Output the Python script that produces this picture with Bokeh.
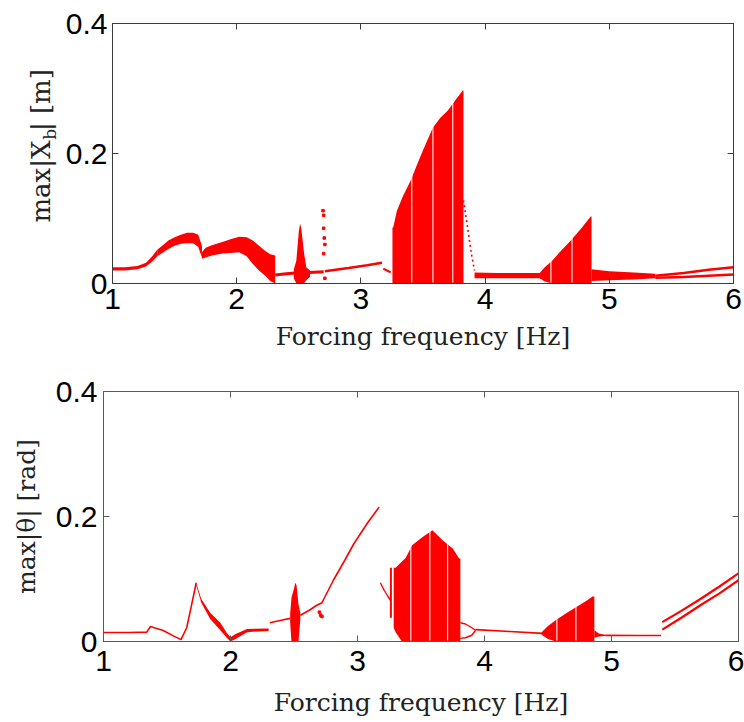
import math
from bokeh.plotting import figure
from bokeh.layouts import column, row
from bokeh.models import FixedTicker, LinearAxis, CustomJSTickFormatter, Range1d
from bokeh.core.properties import value
from bokeh.embed import file_html
from bokeh.resources import INLINE

RED = "#ff0000"

# ---------------- axes / labels ----------------
x_ticks = [1, 2, 3, 4, 5, 6]
y_ticks = [0, 0.2, 0.4]
y_tick_labels = {0: "0", 0.2: "0.2", 0.4: "0.4"}
x_label = "Forcing frequency [Hz]"
top_ylabel_parts = ["max|X", "b", "| [m]"]
bottom_ylabel = "max|\u03b8| [rad]"

# ---------------- top panel: max|Xb| ----------------
xb_start_x = [1.0, 1.1, 1.2, 1.27, 1.32, 1.36]
xb_start_lo = [0.020, 0.020, 0.022, 0.026, 0.034, 0.042]
xb_start_hi = [0.025, 0.025, 0.027, 0.032, 0.042, 0.052]

xb_hump1_x = [1.36, 1.40, 1.45, 1.50, 1.55, 1.60, 1.65, 1.69, 1.72]
xb_hump1_lo = [0.042, 0.047, 0.053, 0.058, 0.061, 0.062, 0.062, 0.056, 0.040]
xb_hump1_hi = [0.052, 0.058, 0.066, 0.071, 0.075, 0.078, 0.078, 0.075, 0.058]

xb_hump2_x = [1.72, 1.75, 1.80, 1.885, 1.95, 2.02, 2.08, 2.13, 2.18, 2.23, 2.27, 2.31]
xb_hump2_lo = [0.038, 0.040, 0.043, 0.046, 0.047, 0.048, 0.042, 0.030, 0.020, 0.012, 0.004, 0.0]
xb_hump2_hi = [0.048, 0.055, 0.059, 0.064, 0.068, 0.072, 0.071, 0.066, 0.058, 0.050, 0.045, 0.043]

xb_low1_x = [2.31, 2.40, 2.47]
xb_low1_y = [0.013, 0.015, 0.016]

xb_spike_x = [2.46, 2.48, 2.50, 2.51, 2.52, 2.54, 2.56, 2.59]
xb_spike_lo = [0.008, 0.0, 0.0, 0.0, 0.0, 0.0, 0.005, 0.010]
xb_spike_hi = [0.022, 0.035, 0.080, 0.092, 0.085, 0.050, 0.025, 0.020]

xb_low2_x = [2.58, 2.70]
xb_low2_y = [0.017, 0.018]

xb_dots_x = [2.695, 2.700, 2.700, 2.705, 2.710, 2.700, 2.710]
xb_dots_y = [0.112, 0.105, 0.085, 0.070, 0.060, 0.046, 0.008]

xb_low3_x = [2.71, 2.90, 3.05, 3.17]
xb_low3_y = [0.019, 0.024, 0.028, 0.032]

xb_drop_x = [3.18, 3.21, 3.24]
xb_drop_y = [0.023, 0.020, 0.017]

xb_chaos1_x = [3.254, 3.26, 3.29, 3.34, 3.40, 3.45, 3.50, 3.58, 3.64, 3.70, 3.76, 3.82, 3.826]
xb_chaos1_hi = [0.086, 0.086, 0.112, 0.135, 0.158, 0.182, 0.205, 0.240, 0.255, 0.266, 0.282, 0.297, 0.297]
xb_chaos1_gaps = [3.41, 3.58, 3.74]

xb_tail_x = [3.826, 3.86, 3.89, 3.915]
xb_tail_y = [0.128, 0.085, 0.045, 0.020]

xb_flat_x = [3.915, 4.10, 4.30, 4.45]
xb_flat_lo = [0.008, 0.008, 0.008, 0.008]
xb_flat_hi = [0.017, 0.016, 0.016, 0.016]

xb_chaos2_x = [4.44, 4.48, 4.54, 4.60, 4.69, 4.77, 4.85, 4.857]
xb_chaos2_lo = [0.008, 0.003, 0.0, 0.0, 0.0, 0.0, 0.0, 0.0]
xb_chaos2_hi = [0.016, 0.025, 0.035, 0.048, 0.066, 0.084, 0.103, 0.103]
xb_chaos2_gaps = [4.53, 4.70]

xb_after_x = [4.857, 5.0, 5.2, 5.37]
xb_after_lo = [0.004, 0.005, 0.006, 0.008]
xb_after_hi = [0.022, 0.019, 0.017, 0.015]

xb_end_x = [5.37, 5.6, 5.8, 6.0]
xb_end_upper = [0.012, 0.016, 0.021, 0.025]
xb_end_lower = [0.009, 0.010, 0.012, 0.014]

# ---------------- bottom panel: max|theta| ----------------
th_start_x = [1.0, 1.2, 1.34, 1.37, 1.40, 1.47, 1.55, 1.61, 1.655, 1.69, 1.73]
th_start_y = [0.0144, 0.0144, 0.015, 0.024, 0.022, 0.0176, 0.009, 0.003, 0.022, 0.055, 0.094]

th_desc_x = [1.73, 1.77, 1.84, 1.92, 1.97, 2.0]
th_desc_lo = [0.090, 0.062, 0.036, 0.018, 0.006, 0.0]
th_desc_hi = [0.094, 0.068, 0.046, 0.030, 0.014, 0.007]

th_rise_x = [2.0, 2.04, 2.13, 2.30]
th_rise_lo = [0.0, 0.004, 0.015, 0.017]
th_rise_hi = [0.007, 0.012, 0.020, 0.021]

th_mid_x = [2.31, 2.40, 2.47]
th_mid_y = [0.030, 0.034, 0.037]

th_spike_x = [2.47, 2.48, 2.50, 2.51, 2.52, 2.535, 2.55]
th_spike_lo = [0.030, 0.0, 0.0, 0.0, 0.0, 0.0, 0.035]
th_spike_hi = [0.045, 0.070, 0.085, 0.094, 0.090, 0.060, 0.045]

th_climb_x = [2.55, 2.62, 2.68, 2.72, 2.81, 2.90, 2.97, 3.08, 3.17]
th_climb_y = [0.042, 0.050, 0.058, 0.062, 0.098, 0.130, 0.156, 0.190, 0.215]

th_dots_x = [2.70, 2.71, 2.72]
th_dots_y = [0.047, 0.042, 0.040]

th_fall_x = [3.18, 3.21, 3.24, 3.26]
th_fall_y = [0.094, 0.082, 0.072, 0.066]

th_bar_x = [3.263]
th_bar_lo = [0.038]
th_bar_hi = [0.118]

th_chaos1_x = [3.285, 3.30, 3.35, 3.38, 3.43, 3.51, 3.59, 3.67, 3.75, 3.80, 3.81]
th_chaos1_lo = [0.022, 0.015, 0.0, 0.0, 0.0, 0.0, 0.0, 0.0, 0.0, 0.0, 0.0]
th_chaos1_hi = [0.118, 0.118, 0.128, 0.134, 0.154, 0.167, 0.178, 0.162, 0.149, 0.133, 0.133]
th_chaos1_gaps = [3.42, 3.57, 3.71]

th_loop_x = [3.81, 3.85, 3.90, 3.93]
th_loop_upper = [0.030, 0.028, 0.022, 0.018]
th_loop_lower = [0.005, 0.006, 0.010, 0.018]

th_flat_x = [3.93, 4.20, 4.46]
th_flat_y = [0.019, 0.016, 0.013]

th_chaos2_x = [4.45, 4.50, 4.56, 4.64, 4.72, 4.80, 4.85, 4.865]
th_chaos2_lo = [0.011, 0.004, 0.0, 0.0, 0.0, 0.0, 0.0, 0.0]
th_chaos2_hi = [0.015, 0.025, 0.034, 0.045, 0.055, 0.065, 0.072, 0.072]
th_chaos2_gaps = [4.57, 4.72]

th_after_x = [4.865, 4.90, 4.95]
th_after_lo = [0.006, 0.008, 0.009]
th_after_hi = [0.018, 0.013, 0.011]

th_tail_x = [4.95, 5.20, 5.39]
th_tail_y = [0.0098, 0.0096, 0.0096]

th_end_x = [5.40, 5.55, 5.70, 5.85, 6.0]
th_end_upper = [0.031, 0.049, 0.068, 0.088, 0.109]
th_end_lower = [0.019, 0.038, 0.058, 0.077, 0.098]


def make_fig(width, height, left, right, top, bottom, axis_color, xl_standoff, xa_standoff, yl_standoff):
    p = figure(width=width, height=height, x_range=Range1d(1, 6), y_range=Range1d(0, 0.4),
               output_backend="svg", toolbar_location=None,
               min_border_left=left, min_border_right=right,
               min_border_top=top, min_border_bottom=bottom)
    p.background_fill_color = "white"
    p.border_fill_color = "white"
    p.xgrid.grid_line_color = None
    p.ygrid.grid_line_color = None
    p.outline_line_color = axis_color
    p.outline_line_width = 1
    for ax in (p.xaxis[0], p.yaxis[0]):
        ax.axis_line_color = axis_color
        ax.major_tick_line_color = axis_color
        ax.major_tick_in = 6
        ax.major_tick_out = 0
        ax.minor_tick_line_color = None
        ax.major_label_text_font = "Liberation Sans"
        ax.major_label_text_font_size = "30px"
        ax.major_label_text_color = "black"
    p.xaxis.ticker = FixedTicker(ticks=x_ticks)
    p.yaxis.ticker = FixedTicker(ticks=y_ticks)
    p.yaxis.major_label_overrides = y_tick_labels
    p.xaxis.major_label_standoff = xl_standoff
    p.yaxis.major_label_standoff = yl_standoff
    p.xaxis.axis_label = x_label
    p.xaxis.axis_label_text_font = "DejaVu Serif"
    p.xaxis.axis_label_text_font_size = "25px"
    p.xaxis.axis_label_text_font_style = "normal"
    p.xaxis.axis_label_text_color = "#222222"
    p.xaxis.axis_label_standoff = xa_standoff
    # mirrored inward ticks on top and right (box style)
    for side, tk in (("above", x_ticks), ("right", y_ticks)):
        ax = LinearAxis(ticker=FixedTicker(ticks=tk),
                        formatter=CustomJSTickFormatter(code="return ''"),
                        major_tick_in=6, major_tick_out=0,
                        minor_tick_line_color=None,
                        axis_line_color=axis_color,
                        major_tick_line_color=axis_color,
                        major_label_text_font_size="0px",
                        major_label_standoff=0)
        p.add_layout(ax, side)
    return p


def band(p, xs, lo, hi):
    p.varea(x=xs, y1=lo, y2=hi, fill_color=RED)


def line(p, xs, ys, w=1.6, dash="solid"):
    p.line(x=xs, y=ys, line_color=RED, line_width=w, line_dash=dash)


def gaps(p, xs):
    p.segment(x0=xs, y0=[0.0015] * len(xs), x1=xs, y1=[0.35] * len(xs),
              line_color="white", line_width=1)


# ---------------- top figure ----------------
LAB_W = 60
p1 = make_fig(744 - LAB_W, 360, 112 - LAB_W, 11, 23, 77, "#3a3a3a", 5, 10, 5)
band(p1, xb_start_x, xb_start_lo, xb_start_hi)
band(p1, xb_hump1_x, xb_hump1_lo, xb_hump1_hi)
band(p1, xb_hump2_x, xb_hump2_lo, xb_hump2_hi)
line(p1, xb_low1_x, xb_low1_y, 3)
band(p1, xb_spike_x, xb_spike_lo, xb_spike_hi)
line(p1, xb_low2_x, xb_low2_y, 3)
p1.scatter(x=xb_dots_x, y=xb_dots_y, marker="square", size=2.5, color=RED)
line(p1, xb_low3_x, xb_low3_y, 2.5)
line(p1, xb_drop_x, xb_drop_y, 2)
band(p1, xb_chaos1_x, [0.0] * len(xb_chaos1_x), xb_chaos1_hi)
gaps(p1, xb_chaos1_gaps)
line(p1, xb_tail_x, xb_tail_y, 1.6, "2 3")
band(p1, xb_flat_x, xb_flat_lo, xb_flat_hi)
band(p1, xb_chaos2_x, xb_chaos2_lo, xb_chaos2_hi)
gaps(p1, xb_chaos2_gaps)
band(p1, xb_after_x, xb_after_lo, xb_after_hi)
line(p1, xb_end_x, xb_end_upper, 2.5)
line(p1, xb_end_x, xb_end_lower, 2.5)

# y label with subscript, drawn in a narrow strip left of the top plot
lab = figure(width=LAB_W, height=360, x_range=Range1d(0, LAB_W), y_range=Range1d(0, 360),
             output_backend="svg", toolbar_location=None, x_axis_type=None, y_axis_type=None,
             min_border_left=0, min_border_right=0, min_border_top=0, min_border_bottom=0)
lab.outline_line_color = None
lab.xgrid.grid_line_color = None
lab.ygrid.grid_line_color = None
lab_font = value("DejaVu Serif")
lab.text(x=[40], y=[198], text=[top_ylabel_parts[0]], angle=math.pi / 2,
         text_align="right", text_baseline="alphabetic",
         text_font=lab_font, text_font_size=value("26px"), text_color="#222222")
lab.text(x=[49], y=[199], text=[top_ylabel_parts[1]], angle=math.pi / 2,
         text_align="left", text_baseline="alphabetic",
         text_font=lab_font, text_font_size=value("17px"), text_color="#222222")
lab.text(x=[40], y=[211], text=[top_ylabel_parts[2]], angle=math.pi / 2,
         text_align="left", text_baseline="alphabetic",
         text_font=lab_font, text_font_size=value("26px"), text_color="#222222")

# ---------------- bottom figure ----------------
p2 = make_fig(744, 362, 103, 6, 31, 81, "#5a5a5a", 9, 14, 6)
p2.yaxis[0].axis_label = bottom_ylabel
p2.yaxis[0].axis_label_text_font = "DejaVu Serif"
p2.yaxis[0].axis_label_text_font_size = "25px"
p2.yaxis[0].axis_label_text_font_style = "normal"
p2.yaxis[0].axis_label_text_color = "#222222"
p2.yaxis[0].axis_label_standoff = 12

line(p2, th_start_x, th_start_y, 1.6)
band(p2, th_desc_x, th_desc_lo, th_desc_hi)
band(p2, th_rise_x, th_rise_lo, th_rise_hi)
line(p2, th_mid_x, th_mid_y, 1.6)
band(p2, th_spike_x, th_spike_lo, th_spike_hi)
line(p2, th_climb_x, th_climb_y, 1.6)
p2.scatter(x=th_dots_x, y=th_dots_y, marker="square", size=2.5, color=RED)
line(p2, th_fall_x, th_fall_y, 1.4)
p2.segment(x0=th_bar_x, y0=th_bar_lo, x1=th_bar_x, y1=th_bar_hi, line_color=RED, line_width=2)
band(p2, th_chaos1_x, th_chaos1_lo, th_chaos1_hi)
gaps(p2, th_chaos1_gaps)
line(p2, th_loop_x, th_loop_upper, 1.4)
line(p2, th_loop_x, th_loop_lower, 1.4)
line(p2, th_flat_x, th_flat_y, 1.6)
band(p2, th_chaos2_x, th_chaos2_lo, th_chaos2_hi)
gaps(p2, th_chaos2_gaps)
band(p2, th_after_x, th_after_lo, th_after_hi)
line(p2, th_tail_x, th_tail_y, 1.6)
line(p2, th_end_x, th_end_upper, 2.2)
line(p2, th_end_x, th_end_lower, 2.2)

layout = column(row(lab, p1, spacing=0), p2, spacing=0)
open("out.html", "w").write(file_html(layout, INLINE))
